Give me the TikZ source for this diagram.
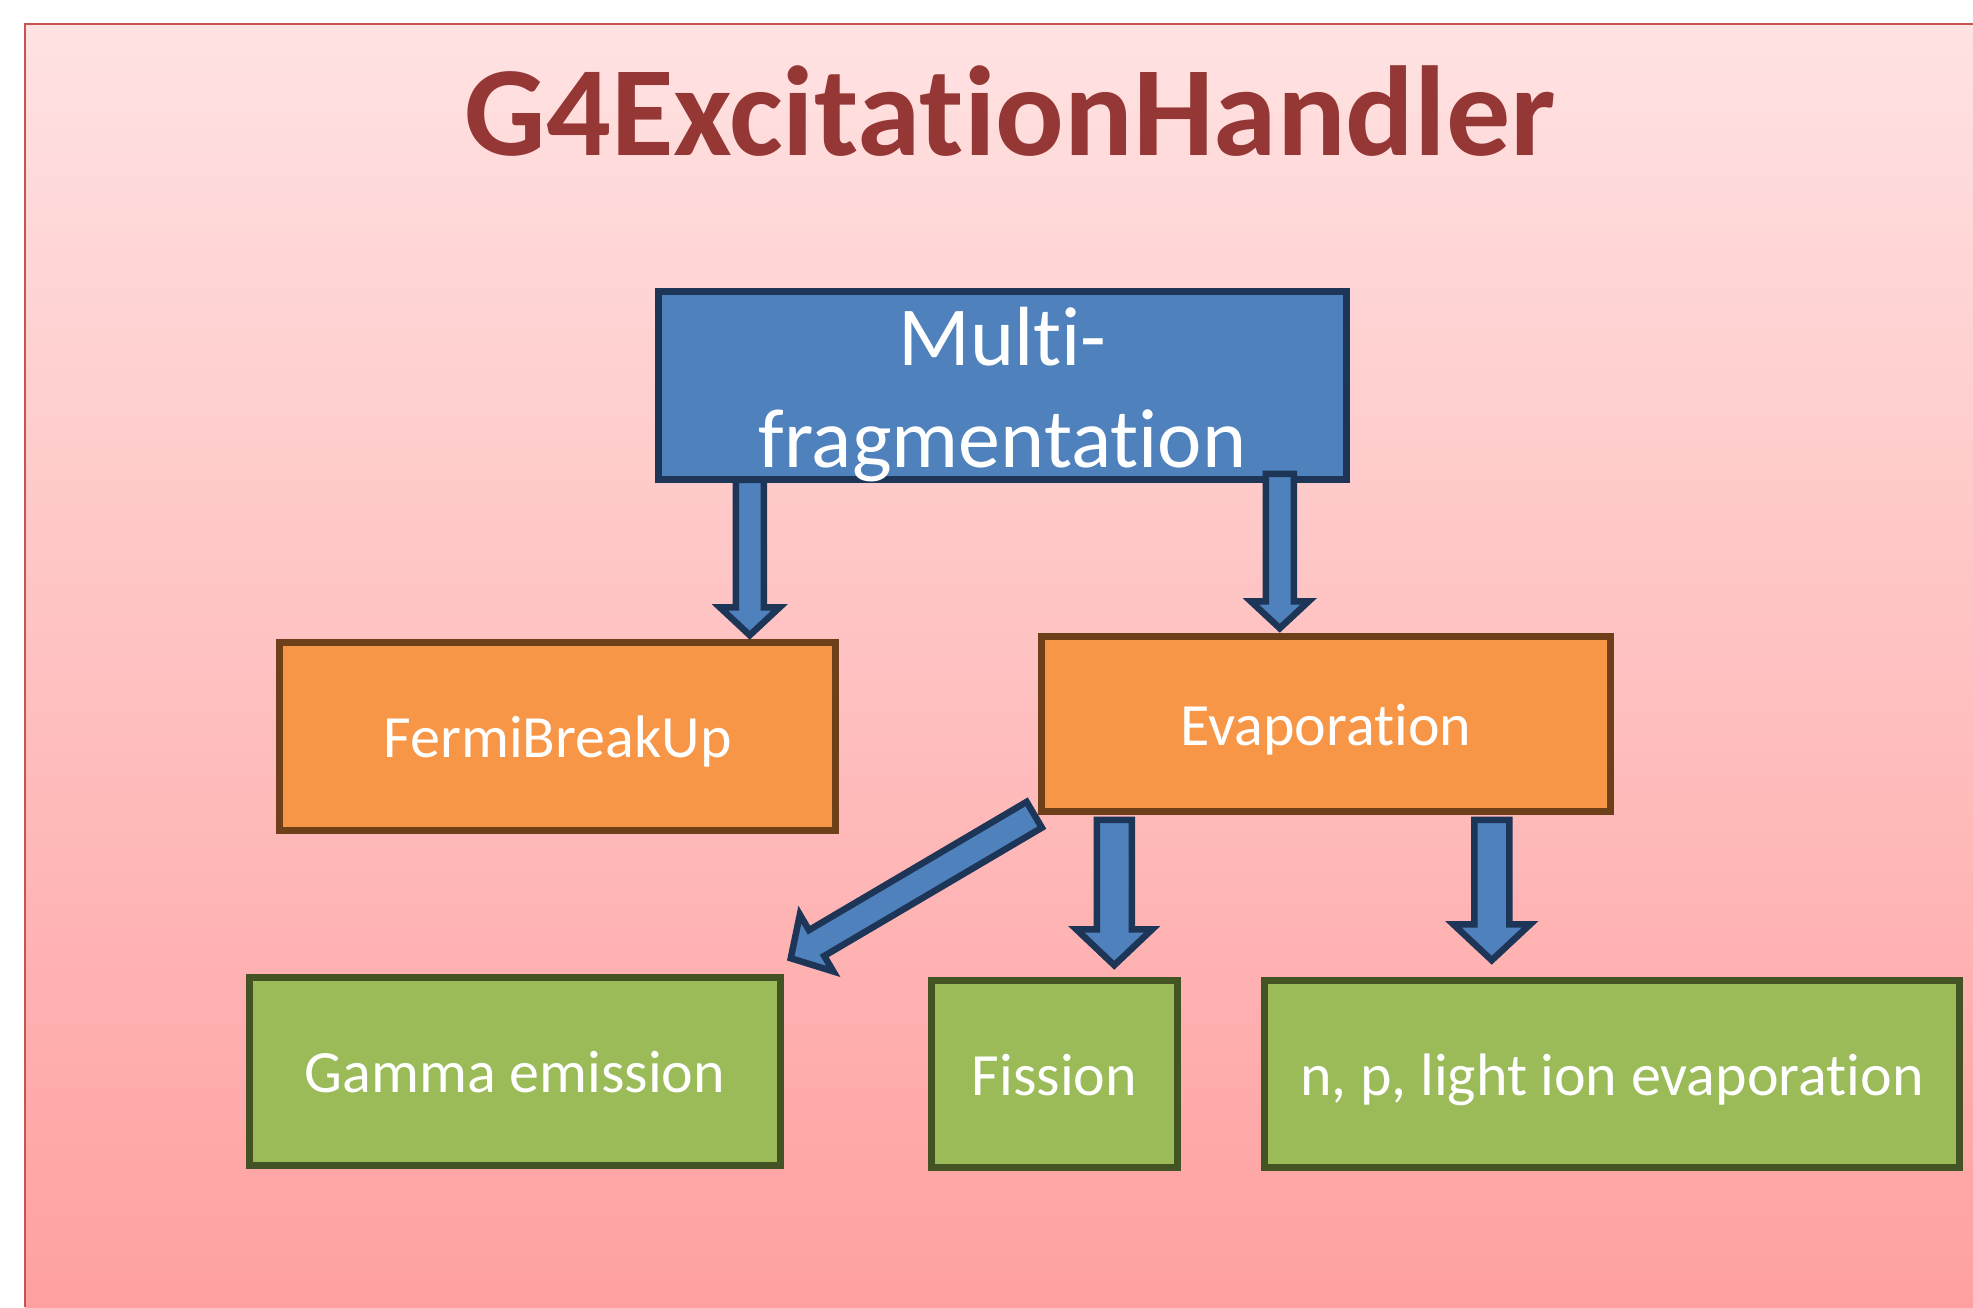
\documentclass[tikz,border=0pt]{standalone}
\usepackage{fontspec}
\setmainfont{Carlito}[Ligatures={NoCommon}]
\usetikzlibrary{calc}
\definecolor{bgtop}{HTML}{FFE2E2}
\definecolor{bgbot}{HTML}{FFA0A0}
\definecolor{framered}{HTML}{C85452}
\definecolor{titlecol}{HTML}{953735}
\definecolor{bluefill}{HTML}{4F81BD}
\definecolor{blueline}{HTML}{1D3557}
\definecolor{orangefill}{HTML}{F79646}
\definecolor{orangeline}{HTML}{6E4019}
\definecolor{greenfill}{HTML}{9BBB59}
\definecolor{greenline}{HTML}{435323}
\tikzset{
  box/.style={draw, line width=6.5pt, inner sep=0pt, text=white,
    font=\fontsize{60}{72}\selectfont, text height=42pt, text depth=0pt},
  bluebox/.style={box, fill=bluefill, draw=blueline},
  orangebox/.style={box, fill=orangefill, draw=orangeline},
  greenbox/.style={box, fill=greenfill, draw=greenline},
  mtext/.style={text=white, font=\fontsize{84}{102}\selectfont, align=center, inner sep=0pt},
  titlestyle/.style={text=titlecol, font=\fontsize{128}{150}\selectfont\bfseries, inner sep=0pt},
  blockarr/.style={fill=bluefill, draw=blueline, line width=6.5pt, line join=miter},
}
% #2 from, #3 to, #4 shaft half width, #5 head half width, #6 head length
\newcommand\blockarrow[6][]{%
  \path[blockarr,#1] let \p1=(#2), \p2=(#3),
    \n1={atan2(\y2-\y1,\x2-\x1)}, \n2={veclen(\x2-\x1,\y2-\y1)} in
    {[shift={(\p1)}, rotate=\n1]
      (0pt,-#4) -- (\n2-#6,-#4) -- (\n2-#6,-#5) -- (\n2,0pt) --
      (\n2-#6,#5) -- (\n2-#6,#4) -- (0pt,#4) -- cycle};
}
\begin{document}
\begin{tikzpicture}[x=1pt,y=-1pt]
\useasboundingbox (0,0) rectangle (1973,1307);
\shade[top color=bgtop,bottom color=bgbot] (25,24) rectangle (1973,1307);
\draw[framered, line width=2.5pt] (25,1307) -- (25,24) -- (1973,24);

\node[titlestyle, anchor=base] (title) at (1010,155) {G4ExcitationHandler};

\node[bluebox, minimum width=688pt, minimum height=188pt] (multi) at (1002.5,385.5) {};
\node[orangebox, minimum width=556pt, minimum height=188pt] (fermi) at (557.5,736.5) {FermiBreakUp};
\node[orangebox, minimum width=569pt, minimum height=175pt] (evap) at (1326,724) {Evaporation};
\node[greenbox, minimum width=531pt, minimum height=188pt] (gamma) at (515,1071.5) {Gamma emission};
\node[greenbox, minimum width=246pt, minimum height=187pt] (fission) at (1054.5,1074) {Fission};
\node[greenbox, minimum width=695pt, minimum height=187pt] (np) at (1612,1074) {n, p, light ion evaporation};

\node[mtext] (multitext) at ([yshift=-9.5pt]multi.center) {Multi-\\fragmentation};

\coordinate (a1s) at ([xshift=94.5pt,yshift=3pt]multi.south west);
\coordinate (a1e) at ([yshift=4pt]a1s |- fermi.north);
\blockarrow{a1s}{a1e}{14pt}{30pt}{28pt}

\coordinate (a2s) at ([xshift=-70pt,yshift=9pt]multi.south east);
\coordinate (a2e) at ([yshift=5pt]a2s |- evap.north);
\blockarrow{a2s}{a2e}{14pt}{29pt}{27pt}

\coordinate (a3s) at ([xshift=76pt,yshift=-5pt]evap.south west);
\coordinate (a3e) at ([yshift=12pt]a3s |- fission.north);
\blockarrow{a3s}{a3e}{17.5pt}{38pt}{36pt}

\coordinate (a4s) at ([xshift=-122pt,yshift=-5pt]evap.south east);
\coordinate (a4e) at ([yshift=17pt]a4s |- np.north);
\blockarrow{a4s}{a4e}{17.5pt}{38.5pt}{36pt}

\coordinate (a5s) at ([xshift=-4pt]evap.south west);
\coordinate (a5e) at ([xshift=7pt,yshift=16pt]gamma.north east);
\blockarrow{a5s}{a5e}{15pt}{33pt}{30pt}
\end{tikzpicture}
\end{document}
